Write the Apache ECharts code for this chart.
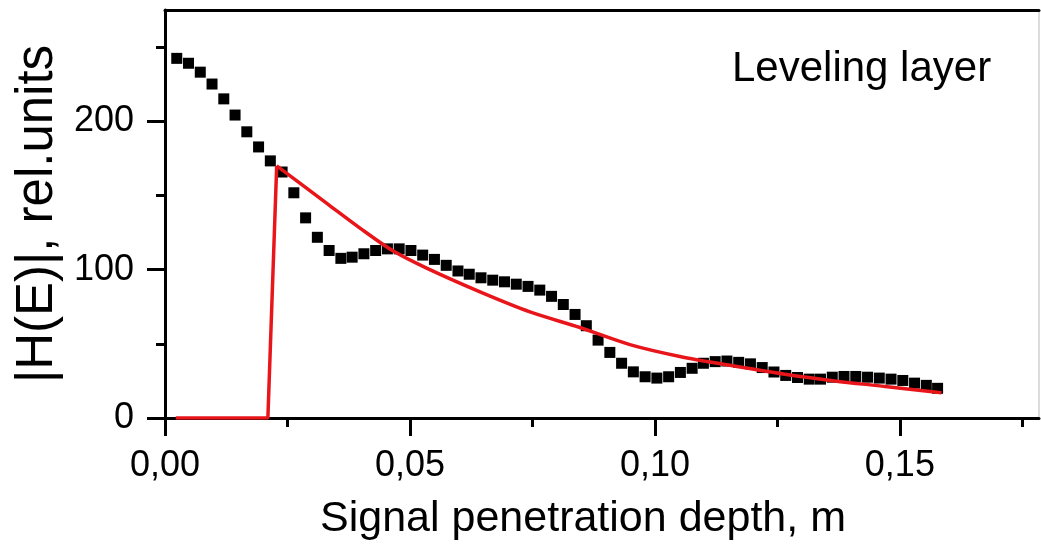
<!DOCTYPE html>
<html>
<head>
<meta charset="utf-8">
<script src="https://cdn.jsdelivr.net/npm/echarts@6/dist/echarts.min.js"></script>
<style>
html,body{margin:0;padding:0;background:#fff;}
#chart{width:1041px;height:546px;}
</style>
</head>
<body>
<div id="chart"></div>
<script>
// ---- data ----
const depth = [0.0024,0.0048,0.0072,0.0096,0.0120,0.0143,0.0167,0.0191,0.0215,0.0239,0.0263,0.0287,0.0311,0.0335,0.0359,0.0382,0.0406,0.0430,0.0454,0.0478,0.0502,0.0526,0.0550,0.0574,0.0598,0.0621,0.0645,0.0669,0.0693,0.0717,0.0741,0.0765,0.0789,0.0813,0.0837,0.0860,0.0884,0.0908,0.0932,0.0956,0.0980,0.1004,0.1028,0.1052,0.1076,0.1099,0.1123,0.1147,0.1171,0.1195,0.1219,0.1243,0.1267,0.1291,0.1315,0.1338,0.1362,0.1386,0.1410,0.1434,0.1458,0.1482,0.1506,0.1530,0.1554,0.1577];
const measured = [242.4,239.1,233.1,225.1,215.1,204.2,192.9,182.7,173.3,165.8,151.8,134.9,121.8,112.9,107.6,108.4,110.7,112.9,114.0,114.0,112.9,109.8,106.9,102.9,99.1,96.9,94.5,92.9,91.8,90.2,88.7,86.2,82.0,76.5,69.8,62.2,52.5,44.2,36.9,31.1,27.8,26.9,27.8,30.7,33.5,36.9,38.0,38.4,37.5,36.5,34.0,31.0,28.7,27.3,26.2,26.2,27.5,28.0,28.0,27.5,26.9,26.2,25.3,23.5,22.0,20.0];
// model curve: flat start + steep rise (straight segments), then smooth decay
const stepX = [0.0022,0.0210,0.0228];
const stepY = [0,0,170];
const decayX = [0.0228,0.0333,0.0398,0.0466,0.0534,0.0643,0.0745,0.0847,0.0949,0.1051,0.1153,0.1265,0.1367,0.1470,0.1585];
const decayY = [170,144,128,112.5,101,85,71.5,61,49.5,41.5,35.5,29.5,25,21.3,17];
const xMajorTicks = [0,0.05,0.10,0.15];
const xMinorTicks = [0.025,0.075,0.125,0.175];
const yMajorTicks = [0,100,200];
const yMinorTicks = [50,150,250];
const xName = 'Signal penetration depth, m';
const yName = '|H(E)|, rel.units';
const panelLabel = 'Leveling layer';

const FONT = '"Liberation Sans", Arial, sans-serif';
const XMIN = 0, XMAX = 0.1784, YMIN = 0, YMAX = 275;
const RED = '#e8161b';

const scatterData = depth.map((d, i) => [d, measured[i]]);
const stepData = stepX.map((d, i) => [d, stepY[i]]);
const decayData = decayX.map((d, i) => [d, decayY[i]]);

const chart = echarts.init(document.getElementById('chart'), null, {renderer: 'canvas'});
chart.setOption({
  animation: false,
  backgroundColor: '#fff',
  grid: {left: 165, right: 2, top: 10, bottom: 123.5, containLabel: false},
  graphic: [{
    type: 'text', left: 732, top: 48,
    style: {text: panelLabel, fontSize: 42, fontFamily: FONT, fill: '#000'}
  }],
  xAxis: [
    {
      type: 'value', min: XMIN, max: XMAX, position: 'bottom',
      axisLine: {show: true, onZero: false, lineStyle: {color: '#000', width: 3}},
      axisTick: {show: true, customValues: xMajorTicks, length: 18, lineStyle: {color: '#000', width: 3}},
      axisLabel: {customValues: xMajorTicks, fontSize: 36, fontFamily: FONT, color: '#000', margin: 30,
        formatter: v => v.toFixed(2).replace('.', ',')},
      splitLine: {show: false},
      name: xName, nameLocation: 'middle', nameGap: 80,
      nameTextStyle: {fontSize: 43, fontFamily: FONT, color: '#000', padding: [0, 38, 0, 0]}
    },
    {
      type: 'value', min: XMIN, max: XMAX, position: 'bottom',
      axisLine: {show: false, onZero: false},
      axisTick: {show: true, customValues: xMinorTicks, length: 9, lineStyle: {color: '#000', width: 3}},
      axisLabel: {show: false}, splitLine: {show: false}
    },
    {
      type: 'value', min: XMIN, max: XMAX, position: 'top',
      axisLine: {show: true, onZero: false, lineStyle: {color: '#000', width: 3}},
      axisTick: {show: false}, axisLabel: {show: false}, splitLine: {show: false}
    }
  ],
  yAxis: [
    {
      type: 'value', min: YMIN, max: YMAX, position: 'left',
      axisLine: {show: true, onZero: false, lineStyle: {color: '#000', width: 3}},
      axisTick: {show: true, customValues: yMajorTicks, length: 18, lineStyle: {color: '#000', width: 3}},
      axisLabel: {customValues: yMajorTicks, fontSize: 36, fontFamily: FONT, color: '#000', margin: 31},
      splitLine: {show: false},
      name: yName, nameLocation: 'middle', nameGap: 98, nameRotate: 90,
      nameTextStyle: {fontSize: 51, fontFamily: FONT, color: '#000'}
    },
    {
      type: 'value', min: YMIN, max: YMAX, position: 'left',
      axisLine: {show: false, onZero: false},
      axisTick: {show: true, customValues: yMinorTicks, length: 9, lineStyle: {color: '#000', width: 3}},
      axisLabel: {show: false}, splitLine: {show: false}
    },
    {
      type: 'value', min: YMIN, max: YMAX, position: 'right',
      axisLine: {show: true, onZero: false, lineStyle: {color: '#d0d0d0', width: 1.5}},
      axisTick: {show: false}, axisLabel: {show: false}, splitLine: {show: false}
    }
  ],
  series: [
    {
      type: 'scatter', xAxisIndex: 0, yAxisIndex: 0,
      symbol: 'rect', symbolSize: 11,
      itemStyle: {color: '#000', opacity: 1},
      emphasis: {disabled: true},
      data: scatterData, z: 2
    },
    {
      type: 'line', xAxisIndex: 0, yAxisIndex: 0,
      showSymbol: false, smooth: false,
      lineStyle: {color: RED, width: 3.5},
      data: stepData, z: 3
    },
    {
      type: 'line', xAxisIndex: 0, yAxisIndex: 0,
      showSymbol: false, smooth: 0.3,
      lineStyle: {color: RED, width: 3.5},
      data: decayData, z: 3
    }
  ]
});
</script>
</body>
</html>
